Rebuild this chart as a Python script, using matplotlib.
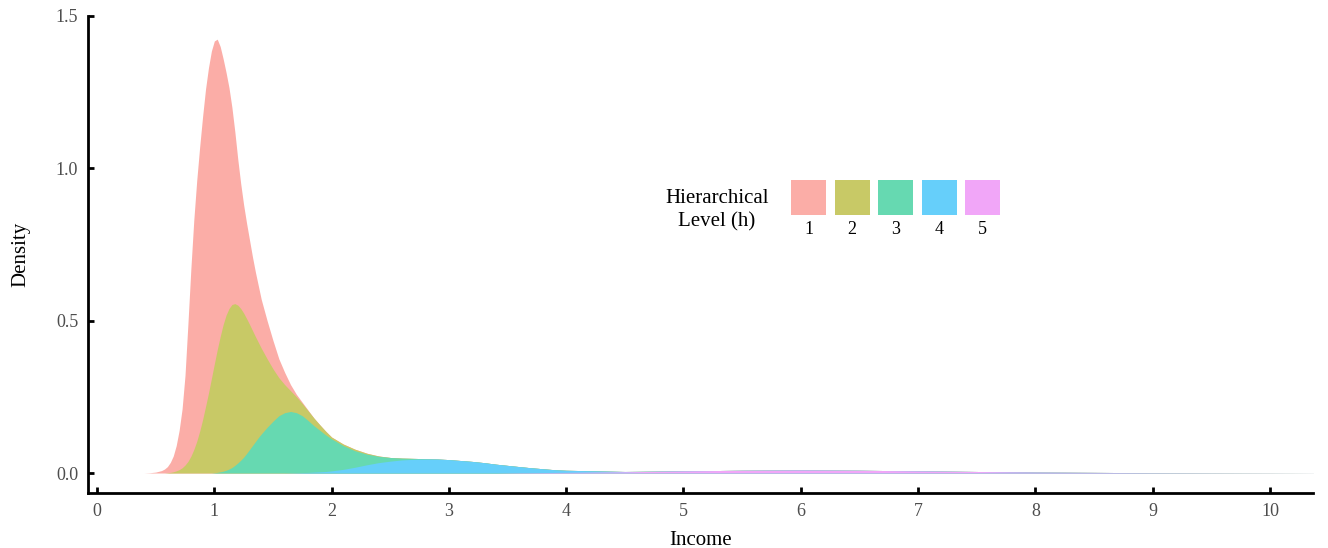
import numpy as np
import matplotlib
matplotlib.use("Agg")
import matplotlib.pyplot as plt
from matplotlib.patches import Rectangle

income = [0.40, 0.45, 0.50, 0.55,
          0.575, 0.600, 0.625, 0.650, 0.675, 0.700, 0.725, 0.750, 0.775, 0.800,
          0.825, 0.850, 0.875, 0.900, 0.925, 0.950, 0.975, 1.000, 1.025, 1.050,
          1.075, 1.100, 1.125, 1.150, 1.175, 1.200, 1.225, 1.250, 1.275, 1.300,
          1.325, 1.350, 1.375, 1.400,
          1.45, 1.50, 1.55, 1.60, 1.65, 1.70, 1.75, 1.80, 1.85, 1.90, 1.95, 2.00,
          2.1, 2.2, 2.3, 2.4, 2.5, 2.6, 2.7, 2.8, 2.9, 3.0,
          3.1, 3.2, 3.3, 3.4, 3.5, 3.6, 3.7, 3.8, 3.9, 4.0,
          4.5, 5.0, 5.5, 6.0, 6.5, 7.0, 7.5, 8.0, 8.5, 9.0, 9.5, 10.0, 10.5]

levels = ["1", "2", "3", "4", "5"]

dens_h1 = [0, 0.001, 0.003, 0.008,
           0.013, 0.020, 0.033, 0.052, 0.083, 0.129, 0.193, 0.294, 0.452, 0.615,
           0.753, 0.856, 0.933, 0.995, 1.042, 1.068, 1.075, 1.060, 1.019, 0.952,
           0.873, 0.797, 0.725, 0.647, 0.564, 0.479, 0.410, 0.355, 0.313, 0.277,
           0.242, 0.212, 0.186, 0.160,
           0.125, 0.093, 0.062, 0.040, 0.020, 0.008, 0.004, 0.002, 0, 0, 0, 0] + [0] * 33
dens_h2 = [0, 0, 0, 0,
           0, 0.001, 0.002, 0.004, 0.007, 0.011, 0.017, 0.026, 0.038, 0.055,
           0.077, 0.104, 0.137, 0.175, 0.218, 0.262, 0.310, 0.357, 0.403, 0.444,
           0.481, 0.509, 0.527, 0.535, 0.531, 0.518, 0.498, 0.473, 0.443, 0.411,
           0.378, 0.345, 0.313, 0.282,
           0.225, 0.172, 0.125, 0.092, 0.068, 0.052, 0.040, 0.032, 0.025, 0.018, 0.012, 0.006,
           0.005, 0.005, 0.003, 0.001] + [0] * 16 + [0] * 13
dens_h3 = [0] * 21 + [0.001, 0.002, 0.004,
                      0.006, 0.009, 0.013, 0.018, 0.025, 0.033, 0.042, 0.052, 0.064, 0.077,
                      0.090, 0.103, 0.116, 0.128,
                      0.150, 0.170, 0.188, 0.198, 0.2015, 0.197, 0.1865, 0.170, 0.152,
                      0.136, 0.120, 0.105,
                      0.078, 0.054, 0.035, 0.021, 0.012, 0.006, 0.003, 0.001] + [0] * 12 + [0] * 13
dens_h4 = [0] * 42 + [0.0005, 0.001, 0.0015, 0.002, 0.003, 0.004, 0.005, 0.007,
                      0.012, 0.019, 0.027, 0.034, 0.039, 0.043, 0.045, 0.046, 0.046, 0.044,
                      0.041, 0.038, 0.034, 0.029, 0.0245, 0.020, 0.016, 0.0125, 0.009, 0.007,
                      0.001] + [0] * 12
dens_h5 = [0] * 50 + [0] * 14 + [0.0005, 0.001, 0.0012, 0.0015, 0.0018, 0.002,
                                 0.004, 0.007, 0.009, 0.010, 0.009, 0.007, 0.005,
                                 0.003, 0.002, 0.001, 0.0006, 0.0003, 0]

# ggplot hue palette at alpha 0.6 on white
colors = ["#FBADA7", "#C8C966", "#66D9B1", "#66CFFA", "#F1A6F8"]

plt.rcParams["font.family"] = ["Liberation Serif", "DejaVu Serif"]

x = np.asarray(income)
d = np.array([dens_h1, dens_h2, dens_h3, dens_h4, dens_h5])
# stacked: level 1 on top, level 5 at the bottom
tops = np.cumsum(d[::-1], axis=0)[::-1]

fig = plt.figure(figsize=(13.28, 5.48), dpi=100)
ax = fig.add_axes([88 / 1328, 55 / 548, (1313 - 88) / 1328, (493 - 16) / 548])

for i in range(5):
    ax.fill_between(x, 0, tops[i], color=colors[i], linewidth=0)

ax.set_xlim(-0.077, 10.367)
ax.set_ylim(-0.0656, 1.5)
ax.set_xticks(range(0, 11))
ax.set_yticks([0, 0.5, 1.0, 1.5])
ax.set_yticklabels(["0.0", "0.5", "1.0", "1.5"])

ax.spines['right'].set_color('none')
ax.spines['top'].set_color('none')
ax.spines['left'].set_linewidth(2)
ax.spines['bottom'].set_linewidth(2)
ax.tick_params(direction='in', length=4, width=2, labelsize=13,
               labelcolor='#4D4D4D', pad=7)

ax.set_xlabel("Income", fontsize=15, labelpad=8)
ax.set_ylabel("Density", fontsize=15, labelpad=18)

# legend drawn by hand: keys in a row, labels underneath
fig.text(717 / 1328, 1 - 210 / 548, "Hierarchical\nLevel (h)", fontsize=15,
         ha='center', va='center', linespacing=1.3)
for i, lab in enumerate(levels):
    left = 791 + 43.5 * i
    fig.patches.append(Rectangle((left / 1328, 1 - 215 / 548), 35 / 1328, 35 / 548,
                                 transform=fig.transFigure, color=colors[i],
                                 linewidth=0))
    fig.text((left + 17.5) / 1328, 1 - 230 / 548, lab, fontsize=13,
             ha='center', va='center')

plt.savefig("out.png", dpi=100)
